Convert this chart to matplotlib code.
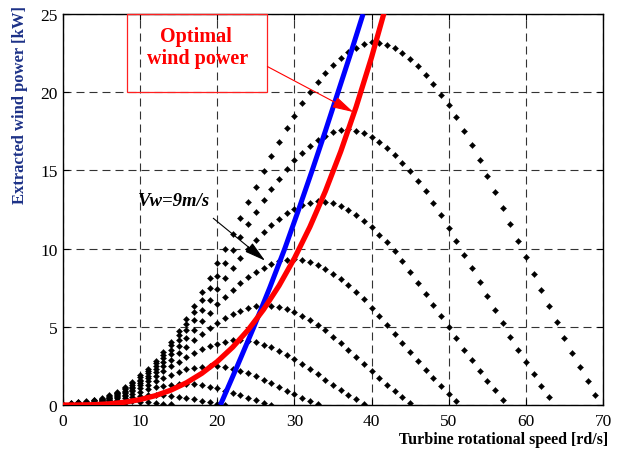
import numpy as np
import matplotlib
matplotlib.use("Agg")
import matplotlib.pyplot as plt
from matplotlib.patches import Rectangle

# ---- data: power [kW] at rotor speed 0,1,2,... rd/s ----
p_v12 = [0.00, 0.12, 0.20, 0.27, 0.35, 0.45, 0.62, 0.85, 1.13, 1.50,
         1.90, 2.33, 2.83, 3.40, 4.05, 4.75, 5.50, 6.30, 7.20, 8.15,
         9.07, 10.00, 10.95, 11.95, 12.95, 13.95, 14.95, 15.90, 16.80, 17.70,
         18.50, 19.30, 20.00, 20.65, 21.20, 21.75, 22.20, 22.55, 22.85, 23.05,
         23.20, 23.15, 23.00, 22.80, 22.50, 22.10, 21.65, 21.10, 20.50, 19.85,
         19.15, 18.40, 17.55, 16.65, 15.65, 14.65, 13.65, 12.60, 11.55, 10.50,
         9.45, 8.40, 7.35, 6.30, 5.30, 4.30, 3.35, 2.45, 1.55, 0.66]
p_v11 = [0.00, 0.10, 0.16, 0.22, 0.30, 0.40, 0.57, 0.79, 1.07, 1.40,
         1.76, 2.17, 2.66, 3.21, 3.81, 4.45, 5.15, 5.93, 6.70, 7.47,
         8.26, 9.09, 9.93, 10.76, 11.58, 12.36, 13.11, 13.81, 14.48, 15.09,
         15.64, 16.10, 16.56, 16.92, 17.20, 17.43, 17.58, 17.62, 17.53, 17.38,
         17.15, 16.83, 16.45, 15.99, 15.48, 14.93, 14.33, 13.67, 12.94, 12.14,
         11.30, 10.47, 9.60, 8.73, 7.85, 6.98, 6.10, 5.23, 4.37, 3.54,
         2.74, 1.98, 1.23, 0.49]
p_v10 = [0.00, 0.08, 0.13, 0.18, 0.24, 0.36, 0.52, 0.74, 1.00, 1.29,
         1.63, 2.03, 2.49, 2.99, 3.53, 4.14, 4.78, 5.41, 6.06, 6.73,
         7.41, 8.09, 8.76, 9.38, 9.99, 10.53, 11.05, 11.51, 11.90, 12.27,
         12.55, 12.78, 12.94, 13.05, 13.00, 12.89, 12.72, 12.47, 12.16, 11.78,
         11.36, 10.90, 10.40, 9.82, 9.19, 8.51, 7.83, 7.12, 6.40, 5.69,
         4.97, 4.26, 3.54, 2.86, 2.19, 1.56, 0.95, 0.34]
p_v9 = [0.00, 0.06, 0.10, 0.14, 0.21, 0.32, 0.47, 0.68, 0.91, 1.18,
        1.51, 1.88, 2.30, 2.76, 3.27, 3.77, 4.28, 4.82, 5.36, 5.91,
        6.43, 6.92, 7.38, 7.81, 8.18, 8.50, 8.79, 9.01, 9.18, 9.29,
        9.32, 9.25, 9.13, 8.93, 8.69, 8.38, 8.04, 7.66, 7.23, 6.75,
        6.22, 5.67, 5.11, 4.54, 3.96, 3.39, 2.82, 2.26, 1.72, 1.21,
        0.72, 0.23]
p_v8 = [0.00, 0.05, 0.08, 0.11, 0.18, 0.29, 0.44, 0.61, 0.83, 1.09,
        1.39, 1.72, 2.10, 2.49, 2.89, 3.31, 3.73, 4.15, 4.55, 4.92,
        5.26, 5.56, 5.81, 6.04, 6.20, 6.32, 6.39, 6.36, 6.28, 6.14,
        5.95, 5.71, 5.44, 5.13, 4.78, 4.37, 3.95, 3.52, 3.07, 2.63,
        2.18, 1.74, 1.31, 0.91, 0.52, 0.15]
p_v7 = [0.00, 0.03, 0.06, 0.09, 0.16, 0.26, 0.39, 0.55, 0.75, 0.98,
        1.25, 1.54, 1.84, 2.15, 2.47, 2.78, 3.07, 3.33, 3.57, 3.77,
        3.93, 4.05, 4.13, 4.14, 4.09, 4.00, 3.86, 3.68, 3.47, 3.22,
        2.94, 2.62, 2.29, 1.96, 1.63, 1.29, 0.97, 0.66, 0.37, 0.09]
p_v6 = [0.00, 0.02, 0.04, 0.07, 0.14, 0.23, 0.34, 0.49, 0.66, 0.87,
        1.08, 1.30, 1.53, 1.75, 1.95, 2.12, 2.27, 2.38, 2.46, 2.50,
        2.48, 2.43, 2.33, 2.19, 2.04, 1.85, 1.63, 1.40, 1.16, 0.92,
        0.68, 0.45, 0.25, 0.04]
p_v5 = [0.00, 0.01, 0.03, 0.06, 0.12, 0.20, 0.30, 0.42, 0.57, 0.71,
        0.86, 1.00, 1.13, 1.23, 1.31, 1.35, 1.36, 1.33, 1.26, 1.17,
        1.06, 0.92, 0.77, 0.61, 0.45, 0.30, 0.15, 0.02]
p_v4 = [0.00, 0.01, 0.02, 0.05, 0.10, 0.16, 0.25, 0.33, 0.42, 0.50,
        0.57, 0.61, 0.64, 0.63, 0.59, 0.53, 0.46, 0.36, 0.27, 0.17,
        0.08, 0.00]
p_v3 = [0.00, 0.00, 0.02, 0.04, 0.08, 0.12, 0.17, 0.20, 0.22, 0.23,
        0.21, 0.18, 0.13, 0.09, 0.04]
p_v2 = [0.00, 0.00, 0.01, 0.03, 0.04, 0.05, 0.04, 0.03, 0.01]
p_v1 = [0.00, 0.00, 0.00]

# optimal power curve (red)
opt_speed = [0, 2, 4, 6, 8, 10, 12, 14, 16, 18, 20, 22, 24, 26, 28, 30,
             32, 34, 36, 38, 40, 42]
opt_power = [0.0, 0.003, 0.022, 0.075, 0.178, 0.347, 0.600, 0.953, 1.423,
             2.026, 2.779, 3.699, 4.802, 6.106, 7.626, 9.380, 11.384, 13.654,
             16.208, 19.062, 22.234, 25.74]

# blue line
blue_speed = [20.4, 22.6, 24.75, 26.8, 28.75, 30.55, 32.3, 34.0, 35.65, 37.3, 38.9]
blue_power = [0.0, 2.5, 5.0, 7.5, 10.0, 12.5, 15.0, 17.5, 20.0, 22.5, 25.0]

x_ticks = [0, 10, 20, 30, 40, 50, 60, 70]
y_ticks = [0, 5, 10, 15, 20, 25]

curves = [p_v12, p_v11, p_v10, p_v9, p_v8, p_v7, p_v6, p_v5, p_v4, p_v3, p_v2, p_v1]

# ---- figure ----
plt.rcParams['font.family'] = ['Liberation Serif', 'DejaVu Serif']
fig = plt.figure(figsize=(6.38, 4.52), dpi=100)
ax = fig.add_axes([63/638, 1-406/452, 540/638, 391/452])

for c in curves:
    ax.plot(np.arange(len(c)), c, linestyle='none', marker='D', ms=3.2,
            color='black', mec='black', mew=0.2, zorder=3, clip_on=True)

ax.plot(blue_speed, blue_power, color='#0000ff', lw=3.6, zorder=4,
        solid_capstyle='butt')
ax.plot(opt_speed, opt_power, color='#ff0000', lw=3.8, zorder=5,
        solid_capstyle='butt')

ax.set_xlim(0, 70)
ax.set_ylim(0, 25)
ax.set_xticks(x_ticks)
ax.set_yticks(y_ticks)
ax.tick_params(direction='in', length=4, width=0.8, top=True, right=True,
               labelsize=12.5)
ax.tick_params(axis='x', pad=6)
ax.tick_params(axis='y', pad=4)
ax.grid(True, color='0.2', lw=0.8, linestyle=(0, (7.2, 4.5)))
ax.set_axisbelow(True)
for s in ax.spines.values():
    s.set_linewidth(1.0)
    s.set_color('black')

# annotation box
ax.add_patch(Rectangle((8.3, 20.0), 18.2, 5.0, fill=False, edgecolor='#ff2020',
                       lw=0.9, zorder=6, clip_on=False))
ax.text(17.25, 23.30, 'Optimal', color='#ff0000', fontsize=14.5,
        fontweight='bold', ha='center', va='baseline', zorder=7)
ax.text(17.4, 21.86, 'wind power', color='#ff0000', fontsize=14.5,
        fontweight='bold', ha='center', va='baseline', zorder=7)
ax.annotate('', xy=(37.63, 18.73), xytext=(26.5, 21.64),
            arrowprops=dict(arrowstyle='-|>,head_length=1.3,head_width=0.35',
                            color='#ff0000', lw=0.8, shrinkA=0, shrinkB=0,
                            mutation_scale=10), zorder=7)

ax.text(9.7, 12.8, 'Vw=9m/s', color='black', fontsize=13.5, fontweight='bold',
        fontstyle='italic', ha='left', va='baseline', zorder=7)
ax.annotate('', xy=(26.19, 9.23), xytext=(19.48, 11.94),
            arrowprops=dict(arrowstyle='-|>,head_length=1.3,head_width=0.35',
                            color='black', lw=0.8, shrinkA=0, shrinkB=0,
                            mutation_scale=10), zorder=7)

fig.text(20/638, 1-105/452, 'Extracted wind power [kW]', rotation=90,
         ha='center', va='center', fontsize=12, fontweight='bold',
         color='#1c3187')
fig.text(608/638, 1-440/452, 'Turbine rotational speed [rd/s]',
         ha='right', va='center', fontsize=11.5, fontweight='bold',
         color='black')

fig.savefig('out.png', dpi=100)
